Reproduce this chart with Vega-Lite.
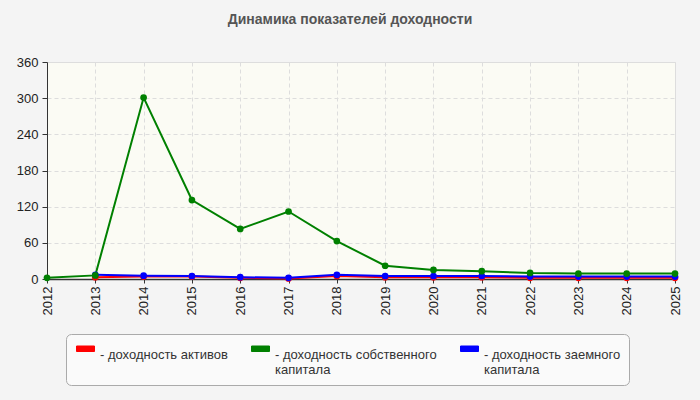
{
  "$schema": "https://vega.github.io/schema/vega-lite/v6.json",
  "width": 628,
  "height": 217,
  "autosize": "none",
  "padding": {"left": 47, "top": 62, "right": 25, "bottom": 121},
  "background": "#f4f4f4",
  "title": {
    "text": "Динамика показателей доходности",
    "font": "Liberation Sans",
    "fontSize": 14,
    "fontWeight": "bold",
    "color": "#555555",
    "anchor": "middle",
    "dx": -11,
    "offset": 29
  },
  "config": {
    "font": "Liberation Sans",
    "view": {"fill": "#fbfbf4", "stroke": "#dddddd"}
  },
  "data": {
    "values": [
      {"year": "2012", "series": "доходность собственного капитала", "value": 2},
      {"year": "2013", "series": "доходность собственного капитала", "value": 6},
      {"year": "2014", "series": "доходность собственного капитала", "value": 301},
      {"year": "2015", "series": "доходность собственного капитала", "value": 131},
      {"year": "2016", "series": "доходность собственного капитала", "value": 83},
      {"year": "2017", "series": "доходность собственного капитала", "value": 112},
      {"year": "2018", "series": "доходность собственного капитала", "value": 63},
      {"year": "2019", "series": "доходность собственного капитала", "value": 22},
      {"year": "2020", "series": "доходность собственного капитала", "value": 15},
      {"year": "2021", "series": "доходность собственного капитала", "value": 13},
      {"year": "2022", "series": "доходность собственного капитала", "value": 10},
      {"year": "2023", "series": "доходность собственного капитала", "value": 9},
      {"year": "2024", "series": "доходность собственного капитала", "value": 9},
      {"year": "2025", "series": "доходность собственного капитала", "value": 9},
      {"year": "2013", "series": "доходность активов", "value": 3},
      {"year": "2014", "series": "доходность активов", "value": 4},
      {"year": "2015", "series": "доходность активов", "value": 4},
      {"year": "2016", "series": "доходность активов", "value": 2},
      {"year": "2017", "series": "доходность активов", "value": 1},
      {"year": "2018", "series": "доходность активов", "value": 5},
      {"year": "2019", "series": "доходность активов", "value": 3},
      {"year": "2020", "series": "доходность активов", "value": 3},
      {"year": "2021", "series": "доходность активов", "value": 3},
      {"year": "2022", "series": "доходность активов", "value": 2},
      {"year": "2023", "series": "доходность активов", "value": 2},
      {"year": "2024", "series": "доходность активов", "value": 2},
      {"year": "2025", "series": "доходность активов", "value": 2},
      {"year": "2013", "series": "доходность заемного капитала", "value": 7},
      {"year": "2014", "series": "доходность заемного капитала", "value": 5.5},
      {"year": "2015", "series": "доходность заемного капитала", "value": 5},
      {"year": "2016", "series": "доходность заемного капитала", "value": 3},
      {"year": "2017", "series": "доходность заемного капитала", "value": 2},
      {"year": "2018", "series": "доходность заемного капитала", "value": 7},
      {"year": "2019", "series": "доходность заемного капитала", "value": 5},
      {"year": "2020", "series": "доходность заемного капитала", "value": 5},
      {"year": "2021", "series": "доходность заемного капитала", "value": 5},
      {"year": "2022", "series": "доходность заемного капитала", "value": 4},
      {"year": "2023", "series": "доходность заемного капитала", "value": 4},
      {"year": "2024", "series": "доходность заемного капитала", "value": 4},
      {"year": "2025", "series": "доходность заемного капитала", "value": 4}
    ]
  },
  "encoding": {
    "x": {
      "field": "year",
      "type": "ordinal",
      "scale": {"type": "point", "padding": 0},
      "axis": {
        "title": null,
        "labelAngle": -90,
        "labelFontSize": 13,
        "labelColor": "#222222",
        "labelPadding": 3,
        "domainColor": "#333333",
        "domainWidth": 1.5,
        "tickColor": "#333333",
        "tickSize": 4,
        "grid": true,
        "gridColor": "#dddddd",
        "gridDash": [4, 3]
      }
    },
    "y": {
      "field": "value",
      "type": "quantitative",
      "scale": {"domain": [0, 360], "nice": false},
      "axis": {
        "title": null,
        "values": [0, 60, 120, 180, 240, 300, 360],
        "labelFontSize": 13,
        "labelColor": "#222222",
        "labelPadding": 4,
        "domainColor": "#333333",
        "tickColor": "#333333",
        "tickSize": 5,
        "grid": true,
        "gridColor": "#dddddd",
        "gridDash": [4, 3]
      }
    },
    "color": {
      "field": "series",
      "type": "nominal",
      "scale": {
        "domain": ["доходность активов", "доходность собственного капитала", "доходность заемного капитала"],
        "range": ["#ff0000", "#008000", "#0000ff"]
      },
      "legend": {
        "title": null,
        "orient": "none",
        "legendX": 19,
        "legendY": 272,
        "direction": "horizontal",
        "columns": 3,
        "gridAlign": "each",
        "columnPadding": 21,
        "padding": 8,
        "fillColor": "#fafafa",
        "strokeColor": "#aaaaaa",
        "cornerRadius": 5,
        "symbolType": "M-1.8,-0.55 L1.8,-0.55 L1.8,0.55 L-1.8,0.55 Z",
        "symbolSize": 100,
        "symbolOffset": 5,
        "symbolStrokeColor": "#888888",
        "symbolStrokeWidth": 1,
        "symbolOpacity": 1,
        "labelFontSize": 13,
        "labelColor": "#333333",
        "labelBaseline": "top",
        "labelOffset": 8,
        "labelLimit": 300,
        "labelExpr": "datum.label == 'доходность активов' ? ['- доходность активов', ''] : datum.label == 'доходность собственного капитала' ? ['- доходность собственного', 'капитала'] : ['- доходность заемного', 'капитала']"
      }
    },
    "order": {"field": "series"}
  },
  "layer": [
    {"mark": {"type": "line", "strokeWidth": 2}},
    {"mark": {"type": "point", "filled": true, "opacity": 1, "size": 45}}
  ]
}
